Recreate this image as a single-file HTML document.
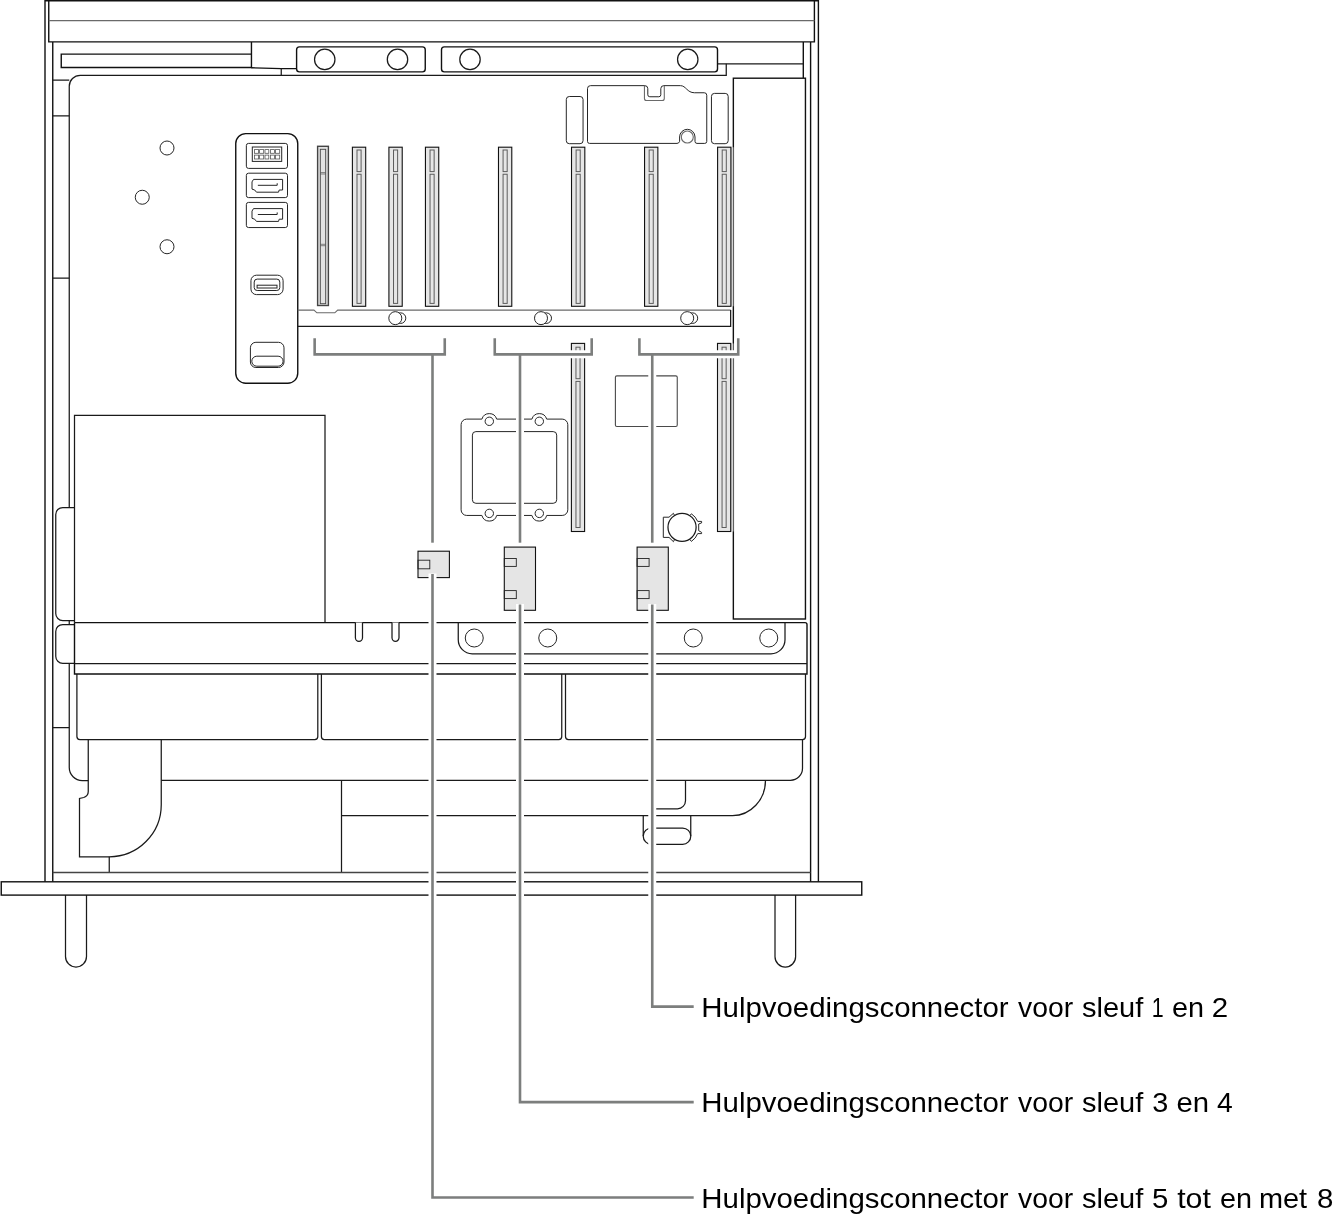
<!DOCTYPE html>
<html><head><meta charset="utf-8">
<style>
html,body{margin:0;padding:0;background:#fff;}
body{width:1343px;height:1224px;overflow:hidden;font-family:"Liberation Sans",sans-serif;}
svg{display:block;}
.k{stroke:#111;stroke-width:1.4;fill:none;}
.kf{stroke:#111;stroke-width:1.4;fill:#fff;}
.m{stroke:#1a1a1a;stroke-width:1.25;fill:none;}
.mf{stroke:#1a1a1a;stroke-width:1.25;fill:#fff;}
.t{stroke:#262626;stroke-width:1;fill:none;}
.tf{stroke:#262626;stroke-width:1;fill:#fff;}
.g{stroke:#6a6a6a;stroke-width:1.1;fill:none;}
.sl{stroke:#111;stroke-width:1.1;fill:#e6e6e6;}
.si{stroke:#5c5c5c;stroke-width:1;fill:none;}
.c{stroke:#7c7e7d;stroke-width:2.6;fill:none;}
.h{stroke:#fff;stroke-width:8;fill:none;}
.ci{stroke:#222;stroke-width:0.9;fill:none;}
.cn{stroke:#111;stroke-width:1.1;fill:#e5e5e5;}
text{font-family:"Liberation Sans",sans-serif;font-size:27.8px;fill:#000;}
</style></head><body>
<svg width="1343" height="1224" viewBox="0 0 1343 1224">
<rect x="0" y="0" width="1343" height="1224" fill="#fff"/>
<!--CASE-->
<g id="case">
<path class="k" d="M45 882V0.75H818.4V882"/>
<path class="k" d="M48.75 0.75V41.9H814.4V0.75"/>
<path class="g" d="M48.75 20.6H814.4"/>
<path class="k" d="M52.75 41.9V882"/>
<path class="k" d="M810.6 41.9V882"/>
<path class="k" d="M803.3 41.9V78.2"/>
<!-- slot rect top-left -->
<path class="k" d="M251.45 41.9V67.5H61.25V54.1H251.45"/>
<path class="k" d="M251.4 67.8L281.3 68.6H296.6"/>
<path class="m" d="M281.25 68.3V75.25"/>
<!-- board outline -->
<path class="m" d="M69.25 507.5V86.25A11 11 0 0 1 80.25 75.25H726.25V63.75"/>
<path class="m" d="M717.5 63.9H803.3"/>
<!-- left strip -->
<path class="m" d="M52.75 80H69.25M52.75 115.75H69.25M52.75 278H69.25M52.75 727.5H69.25"/>
<!-- rounded bars w circles -->
<rect class="kf" x="296.6" y="46.9" width="128.65" height="25" rx="2.8"/>
<rect class="kf" x="441.5" y="46.9" width="276" height="25" rx="2.8"/>
<circle class="m" cx="324.75" cy="59.4" r="10.2"/><circle class="m" cx="397.5" cy="59.4" r="10.2"/>
<circle class="m" cx="470" cy="59.4" r="10.2"/><circle class="m" cx="687.75" cy="59.4" r="10.2"/>
<!-- PSU box -->
<rect class="kf" x="733.35" y="78.2" width="72.1" height="540.8"/>
</g>
<!--BOARD-->
<g id="board">
<rect x="730.5" y="147.2" width="2.9" height="159.1" fill="#d4d4d4"/><rect x="730.5" y="343.4" width="2.9" height="188.1" fill="#d4d4d4"/>
<circle class="t" cx="167" cy="148" r="7"/>
<circle class="t" cx="142.25" cy="197.25" r="7"/>
<circle class="t" cx="167" cy="246.75" r="7"/>
<rect class="kf" x="235.75" y="133.6" width="62" height="249.7" rx="10"/>
<rect class="t" x="246.35" y="143.4" width="41.15" height="25.00" rx="2.2"/>
<rect class="t" x="246.35" y="173.2" width="41.15" height="24.40" rx="2.2"/>
<rect class="t" x="246.35" y="202.4" width="41.15" height="25.15" rx="2.2"/>
<rect class="t" x="252.3" y="147" width="29.4" height="14.4"/>
<rect x="254.4" y="149.6" width="4.20" height="3.70" fill="none" stroke="#555" stroke-width="0.8"/>
<rect x="259.6" y="149.6" width="4.10" height="3.70" fill="none" stroke="#555" stroke-width="0.8"/>
<rect x="265" y="149.6" width="3.80" height="3.70" fill="none" stroke="#555" stroke-width="0.8"/>
<rect x="270.4" y="149.6" width="4.10" height="3.70" fill="none" stroke="#555" stroke-width="0.8"/>
<rect x="275.5" y="149.6" width="4.20" height="3.70" fill="none" stroke="#555" stroke-width="0.8"/>
<rect x="254.4" y="155.1" width="4.20" height="3.90" fill="none" stroke="#555" stroke-width="0.8"/>
<rect x="259.6" y="155.1" width="4.10" height="3.90" fill="none" stroke="#555" stroke-width="0.8"/>
<rect x="265" y="155.1" width="3.80" height="3.90" fill="none" stroke="#555" stroke-width="0.8"/>
<rect x="270.4" y="155.1" width="4.10" height="3.90" fill="none" stroke="#555" stroke-width="0.8"/>
<rect x="275.5" y="155.1" width="4.20" height="3.90" fill="none" stroke="#555" stroke-width="0.8"/>
<path class="t" d="M253.5 179.40 L282.6 179.40 L282.6 190.00 L279.2 190.00 L278.5 192.20 L256.5 192.20 L254.7 190.00 L252 189.10 L252 181.90Z"/><path class="t" d="M257.85 185.30H277.2V183.25"/>
<path class="t" d="M253.5 208.60 L282.6 208.60 L282.6 219.20 L279.2 219.20 L278.5 221.40 L256.5 221.40 L254.7 219.20 L252 218.30 L252 211.10Z"/><path class="t" d="M257.85 214.50H277.2V212.45"/>
<rect class="t" x="250.95" y="275.2" width="32.15" height="19.4" rx="5.5"/>
<rect class="t" x="254.2" y="279.1" width="25.6" height="11.4" rx="3"/>
<rect class="t" x="257.1" y="285.2" width="19.9" height="2.8"/>
<rect class="t" x="250.4" y="342.3" width="33.6" height="25.2" rx="5.5"/>
<rect class="t" x="251.8" y="356.2" width="31.3" height="10" rx="5"/>
<rect x="317.6" y="146.3" width="10.8" height="159.2" fill="#e2e2e2" stroke="#444" stroke-width="1.4"/>
<rect x="320.3" y="149.3" width="5.4" height="154.4" fill="none" stroke="#444" stroke-width="0.9"/>
<path d="M320.3 172.6H325.7M320.3 174H325.7M320.3 244.3H325.7M320.3 245.7H325.7" stroke="#555" stroke-width="0.7"/>
<rect class="sl" x="352.40" y="147.2" width="13.3" height="159.10"/><rect class="si" x="357.00" y="150" width="4.1" height="21.60"/><rect class="si" x="357.00" y="174.25" width="4.1" height="129.15"/>
<rect class="sl" x="388.92" y="147.2" width="13.3" height="159.10"/><rect class="si" x="393.52" y="150" width="4.1" height="21.60"/><rect class="si" x="393.52" y="174.25" width="4.1" height="129.15"/>
<rect class="sl" x="425.44" y="147.2" width="13.3" height="159.10"/><rect class="si" x="430.04" y="150" width="4.1" height="21.60"/><rect class="si" x="430.04" y="174.25" width="4.1" height="129.15"/>
<rect class="sl" x="498.48" y="147.2" width="13.3" height="159.10"/><rect class="si" x="503.08" y="150" width="4.1" height="21.60"/><rect class="si" x="503.08" y="174.25" width="4.1" height="129.15"/>
<rect class="sl" x="571.52" y="147.2" width="13.3" height="159.10"/><rect class="si" x="576.12" y="150" width="4.1" height="21.60"/><rect class="si" x="576.12" y="174.25" width="4.1" height="129.15"/>
<rect class="sl" x="644.56" y="147.2" width="13.3" height="159.10"/><rect class="si" x="649.16" y="150" width="4.1" height="21.60"/><rect class="si" x="649.16" y="174.25" width="4.1" height="129.15"/>
<rect class="sl" x="717.60" y="147.2" width="13.3" height="159.10"/><rect class="si" x="722.20" y="150" width="4.1" height="21.60"/><rect class="si" x="722.20" y="174.25" width="4.1" height="129.15"/>
<rect class="sl" x="571.40" y="343.4" width="13.2" height="188.10"/><rect class="si" x="575.95" y="347.2" width="4.1" height="31.50"/><rect class="si" x="575.95" y="381.4" width="4.1" height="146.10"/>
<rect class="sl" x="717.50" y="343.4" width="13.2" height="188.10"/><rect class="si" x="722.05" y="347.2" width="4.1" height="31.50"/><rect class="si" x="722.05" y="381.4" width="4.1" height="146.10"/>
<rect class="t" x="566.3" y="96.5" width="16.75" height="47.2" rx="3"/>
<rect class="t" x="711.45" y="93.4" width="16.75" height="50.3" rx="3"/>
<path class="t" d="M590.5 85.65H644.8Q647.8 85.65 647.8 88.65V94.75Q647.8 96.75 649.8 96.75H658.8Q660.8 96.75 660.8 94.75V88.65Q660.8 85.65 663.8 85.65H680.5C686 85.65 687 92.75 694.5 92.75H704.25Q706.75 92.75 706.75 95.25V141.4Q706.75 143.4 704.75 143.4H697Q695 143.4 695 141.4V137A7.7 7.7 0 0 0 679.6 137V141.4Q679 143.4 677 143.4H589.5Q587.5 143.4 587.5 141.4V88.65Q587.5 85.65 590.5 85.65Z"/>
<path class="g" d="M644.45 86V98.5Q644.45 100.5 646.45 100.5H662.3Q664.3 100.5 664.3 98.5V86" stroke-width="0.8"/>
<circle class="g" cx="687.3" cy="137" r="6"/>
<path class="g" d="M297.75 310.1H313.95L316.9 312.8H334.8L337.7 310.1H730.65"/>
<path class="m" d="M297.75 326.4H730.65V310.1"/>
<circle class="tf" cx="400.5" cy="318.15" r="5.3"/>
<circle class="tf" cx="395.3" cy="318.15" r="6.5"/>
<circle class="tf" cx="546.2" cy="318.15" r="5.3"/>
<circle class="tf" cx="541" cy="318.15" r="6.5"/>
<circle class="tf" cx="692.4000000000001" cy="318.15" r="5.3"/>
<circle class="tf" cx="687.2" cy="318.15" r="6.5"/>
<path class="t" d="M466.70000000000005 419.1H481.92A7.7 7.7 0 0 1 496.68 419.1H531.92A7.7 7.7 0 0 1 546.68 419.1H562.1999999999999A5.6 5.6 0 0 1 567.8 424.70000000000005V509.85A5.6 5.6 0 0 1 562.1999999999999 515.45H546.72A7.7 7.7 0 0 1 531.88 515.45H496.72A7.7 7.7 0 0 1 481.88 515.45H466.70000000000005A5.6 5.6 0 0 1 461.1 509.85V424.70000000000005A5.6 5.6 0 0 1 466.70000000000005 419.1Z"/><rect class="t" x="472.4" y="431.6" width="84.3" height="71.7" rx="3.5"/><circle class="t" cx="489.3" cy="421.3" r="4.2"/><circle class="t" cx="489.3" cy="513.4" r="4.2"/><circle class="t" cx="539.3" cy="421.3" r="4.2"/><circle class="t" cx="539.3" cy="513.4" r="4.2"/>
<rect x="615.4" y="375.85" width="61.85" height="50.7" rx="1.5" fill="none" stroke="#4a4a4a" stroke-width="1.1"/>
<path class="t" d="M674.3 515L673.45 513.3L669 517.2H663.3V537.4H669L673.45 541.7L674.3 540"/>
<path class="t" d="M690.1 515.4L691.4 513.8A16.6 16.6 0 0 1 697.7 521.4H701.6V522.9L698.7 524V530.7L701.6 532.4V533.6H697.7A16.6 16.6 0 0 1 691.4 541.4L690.1 539.8"/>
<circle class="mf" cx="682.05" cy="527.36" r="14.07"/>
<rect class="cn" x="418" y="551.2" width="31.4" height="26.4"/>
<rect class="ci" x="418" y="560.2" width="11.8" height="8.6"/>
<rect class="cn" x="504.3" y="547.1" width="31.2" height="63.2"/>
<rect class="ci" x="504.3" y="558.5" width="12" height="7.9"/>
<rect class="ci" x="504.3" y="590.6" width="12" height="8"/>
<rect class="cn" x="637.1" y="547.1" width="31.2" height="63.2"/>
<rect class="ci" x="637.1" y="558.5" width="12" height="7.9"/>
<rect class="ci" x="637.1" y="590.6" width="12" height="8"/>
<path class="m" d="M74.5 622.6V415.25H325V622.6"/>
</g>
<!--LOWER-->
<g id="lower">
<path class="m" d="M74.5 507.5H62.75A7 7 0 0 0 55.75 514.5V613.5A7 7 0 0 0 62.75 620.5H74.5"/>
<path class="m" d="M74.5 624.5H62.75A7 7 0 0 0 55.75 631.5V656.25A7 7 0 0 0 62.75 663.25H74.5"/>
<path class="m" d="M69.25 620.5V624.5"/>
<path class="m" d="M69.25 663.25V767.5A13 13 0 0 0 82.25 780.5H88.25"/>
<path class="k" d="M74.5 622.6H805Q807 622.6 807 624.6V674H74.5V622.6"/>
<path class="m" d="M74.5 663.6H807"/>
<path class="mf" d="M355.4 622.6V637.70A3.55 3.55 0 0 0 362.5 637.70V622.6"/>
<path class="mf" d="M392 622.6V637.75A3.50 3.50 0 0 0 399 637.75V622.6"/>
<path class="m" d="M458.25 622.6V639.75A14 14 0 0 0 472.25 653.75H771A14 14 0 0 0 785 639.75V622.6"/>
<circle class="t" cx="474.25" cy="638" r="9"/>
<circle class="t" cx="547.75" cy="638" r="9"/>
<circle class="t" cx="693.25" cy="638" r="9"/>
<circle class="t" cx="768.75" cy="638" r="9"/>
<path class="m" d="M76.9 674V736.5A3 3 0 0 0 79.9 739.5H314.8A3 3 0 0 0 317.8 736.5V674"/>
<path class="m" d="M321.4 674V736.5A3 3 0 0 0 324.4 739.5H558.75A3 3 0 0 0 561.75 736.5V674"/>
<path class="m" d="M565.5 674V736.5A3 3 0 0 0 568.5 739.5H802.5A3 3 0 0 0 805.5 736.5V674"/>
<path class="m" d="M88.25 739.5V791.5Q88.25 796 83.75 797.5L79.5 798.5V856.75H109.25A52 52 0 0 0 161.25 804.75V739.5"/>
<path class="m" d="M109.25 856.75V872.5"/>
<path class="m" d="M161.25 780.3H790.5A12 12 0 0 0 802.5 768.3V739.5"/>
<path class="m" d="M341.5 780.3V872.5"/>
<path class="m" d="M341.5 815.6H732.5A33 35.3 0 0 0 765.5 780.3"/>
<path class="m" d="M650 808.75H677.5A8 8 0 0 0 685.5 800.75V780.3"/>
<path class="m" d="M643.25 815.6V836M690.75 815.6V836"/>
<rect class="m" x="643.25" y="828" width="47.5" height="16.25" rx="8.1"/>
<path d="M52.75 872.5H810.5" stroke="#444" stroke-width="1.35" fill="none"/>
<path class="m" d="M65.5 895V956.50A10.50 10.50 0 0 0 86.5 956.50V895"/>
<path class="m" d="M775 895V956.70A10.30 10.30 0 0 0 795.6 956.70V895"/>
<rect class="kf" x="1.25" y="881.8" width="860.5" height="13.3"/>
</g>
<!--CALLOUTS-->
<g id="callouts">
<path class="h" d="M314.65 338.3V354.35H444.75V338.3"/>
<path class="h" d="M494.75 338.3V354.35H591.7V338.3"/>
<path class="h" d="M639.4 338.3V354.35H738.25V338.3"/>
<path class="h" d="M432.5 354.35V542.7"/>
<path class="h" d="M520 354.35V542.7"/>
<path class="h" d="M652.25 354.35V542.7"/>
<path class="h" d="M432.5 573.5V1197.5"/>
<path class="h" d="M520 604V1102.1"/>
<path class="h" d="M652.25 604V1006.6"/>
<path class="c" d="M314.65 338.3V354.35H444.75V338.3"/>
<path class="c" d="M494.75 338.3V354.35H591.7V338.3"/>
<path class="c" d="M639.4 338.3V354.35H738.25V338.3"/>
<path class="c" d="M432.5 354.35V542.7"/>
<path class="c" d="M520 354.35V542.7"/>
<path class="c" d="M652.25 354.35V542.7"/>
<path class="c" d="M432.5 574V1197.5H693.7"/>
<path class="c" d="M520 604.5V1102.1H693.7"/>
<path class="c" d="M652.25 604.5V1006.6H693.7"/>
</g>
<!--TEXT-->
<g id="labels" style="filter:grayscale(1)">
<text x="701.37" y="1016.75" textLength="307.17" lengthAdjust="spacingAndGlyphs">Hulpvoedingsconnector</text>
<text x="1018.00" y="1016.75" textLength="55.09" lengthAdjust="spacingAndGlyphs">voor</text>
<text x="1081.97" y="1016.75" textLength="61.25" lengthAdjust="spacingAndGlyphs">sleuf</text>
<text x="1151.71" y="1016.75" textLength="11.92" lengthAdjust="spacingAndGlyphs">1</text>
<text x="1171.95" y="1016.75" textLength="32.04" lengthAdjust="spacingAndGlyphs">en</text>
<text x="1211.66" y="1016.75" textLength="16.40" lengthAdjust="spacingAndGlyphs">2</text>
<text x="701.37" y="1112.2" textLength="307.17" lengthAdjust="spacingAndGlyphs">Hulpvoedingsconnector</text>
<text x="1018.00" y="1112.2" textLength="55.09" lengthAdjust="spacingAndGlyphs">voor</text>
<text x="1081.97" y="1112.2" textLength="61.25" lengthAdjust="spacingAndGlyphs">sleuf</text>
<text x="1152.21" y="1112.2" textLength="16.05" lengthAdjust="spacingAndGlyphs">3</text>
<text x="1176.43" y="1112.2" textLength="32.59" lengthAdjust="spacingAndGlyphs">en</text>
<text x="1216.99" y="1112.2" textLength="15.74" lengthAdjust="spacingAndGlyphs">4</text>
<text x="701.37" y="1207.65" textLength="307.17" lengthAdjust="spacingAndGlyphs">Hulpvoedingsconnector</text>
<text x="1018.00" y="1207.65" textLength="55.09" lengthAdjust="spacingAndGlyphs">voor</text>
<text x="1081.97" y="1207.65" textLength="61.25" lengthAdjust="spacingAndGlyphs">sleuf</text>
<text x="1151.93" y="1207.65" textLength="16.36" lengthAdjust="spacingAndGlyphs">5</text>
<text x="1177.20" y="1207.65" textLength="33.72" lengthAdjust="spacingAndGlyphs">tot</text>
<text x="1219.95" y="1207.65" textLength="32.04" lengthAdjust="spacingAndGlyphs">en</text>
<text x="1258.93" y="1207.65" textLength="48.17" lengthAdjust="spacingAndGlyphs">met</text>
<text x="1316.93" y="1207.65" textLength="16.36" lengthAdjust="spacingAndGlyphs">8</text>
</g>
</svg>
</body></html>
